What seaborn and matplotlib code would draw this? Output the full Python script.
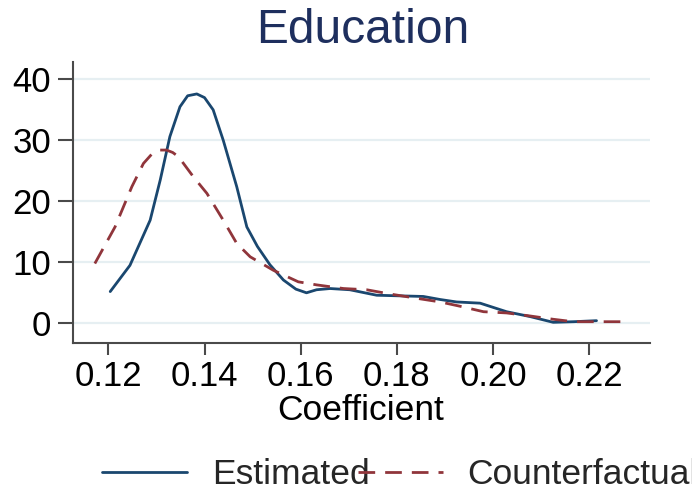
import matplotlib
matplotlib.use("Agg")
import matplotlib.pyplot as plt
import seaborn as sns
import pandas as pd

# ---- data ----
est_x = [0.1204, 0.1245, 0.1287, 0.1308, 0.1328, 0.1349, 0.1365, 0.1384, 0.1400,
         0.1418, 0.1439, 0.1467, 0.1488, 0.1510, 0.1536, 0.1564, 0.1590, 0.1612,
         0.1633, 0.1661, 0.1702, 0.1758, 0.1806, 0.1855, 0.1890, 0.1924, 0.1973,
         0.2028, 0.2077, 0.2125, 0.2167, 0.2215]
est_y = [5.2, 9.5, 16.9, 23.5, 30.6, 35.5, 37.3, 37.6, 37.0,
         35.0, 30.0, 22.4, 15.8, 12.6, 9.6, 7.1, 5.6, 5.0,
         5.5, 5.7, 5.5, 4.6, 4.5, 4.4, 3.9, 3.5, 3.3,
         1.9, 1.1, 0.16, 0.26, 0.43]

cf_x = [0.1172, 0.1214, 0.1249, 0.1273, 0.1290, 0.1306, 0.1321, 0.1334, 0.1346,
        0.1377, 0.1405, 0.1439, 0.1467, 0.1495, 0.1543, 0.1595, 0.1633, 0.1689,
        0.1737, 0.1786, 0.1841, 0.1890, 0.1931, 0.1980, 0.2028, 0.2077, 0.2125,
        0.2167, 0.2222, 0.2278]
cf_y = [9.8, 15.8, 22.4, 26.2, 27.7, 28.4, 28.4, 28.0, 27.3,
        24.0, 21.3, 16.9, 13.1, 10.9, 8.7, 6.8, 6.3, 5.7,
        5.5, 4.8, 4.1, 3.5, 2.8, 1.9, 1.7, 1.2, 0.66,
        0.26, 0.26, 0.26]

x_ticks = [0.12, 0.14, 0.16, 0.18, 0.20, 0.22]
x_tick_labels = ["0.12", "0.14", "0.16", "0.18", "0.20", "0.22"]
y_ticks = [0, 10, 20, 30, 40]
y_tick_labels = ["0", "10", "20", "30", "40"]

title = "Education"
x_label = "Coefficient"
series_names = ["Estimated", "Counterfactual"]

# ---- style ----
sns.set_style("white")
plt.rcParams["font.family"] = ["Liberation Sans", "DejaVu Sans"]

BLUE = "#1a476f"
RED = "#90353b"
GRID = "#e6eff2"
SPINE = "#4a4a4a"

fig = plt.figure(figsize=(6.92, 4.92), dpi=100)
W, H = 692, 492
ax = fig.add_axes([72.7 / W, 1 - 343.3 / H, (650 - 72.7) / W, (343.3 - 62) / H])

df_est = pd.DataFrame({"x": est_x, "y": est_y})
df_cf = pd.DataFrame({"x": cf_x, "y": cf_y})

sns.lineplot(data=df_est, x="x", y="y", ax=ax, color=BLUE, lw=2.0,
             estimator=None, sort=False, label=series_names[0])
sns.lineplot(data=df_cf, x="x", y="y", ax=ax, color=RED, lw=2.0,
             estimator=None, sort=False, label=series_names[1])
ax.lines[1].set_dashes((6, 3.6))
for ln in ax.lines:
    ln.set_solid_joinstyle("round")
    ln.set_dash_joinstyle("round")

# axes limits (from pixel calibration)
px_per_x = 96.2 / 0.02
ax.set_xlim(0.12 - (108.3 - 72.7) / px_per_x, 0.12 + (650 - 108.3) / px_per_x)
ax.set_ylim(0 - (343.3 - 323.3) / 6.1, 40 + (79.3 - 62) / 6.1)

ax.set_xticks(x_ticks)
ax.set_xticklabels(x_tick_labels)
ax.set_yticks(y_ticks)
ax.set_yticklabels(y_tick_labels)

ax.grid(axis="y", color=GRID, lw=1.6)
ax.grid(axis="x", visible=False)
ax.set_axisbelow(True)

for s in ["top", "right"]:
    ax.spines[s].set_visible(False)
for s in ["left", "bottom"]:
    ax.spines[s].set_color(SPINE)
    ax.spines[s].set_linewidth(1.5)

ax.tick_params(axis="y", length=10.5, width=1.5, color=SPINE, pad=5,
               labelsize=25, labelcolor="black", left=True)
ax.tick_params(axis="x", length=8.5, width=1.5, color=SPINE, pad=3.5,
               labelsize=25, labelcolor="black", bottom=True)

ax.set_ylabel("")
ax.set_xlabel("")
fig.text(361 / W, 1 - 410 / H, x_label, ha="center", va="center",
         fontsize=25.5, color="black")

fig.text(362.5 / W, 1 - 43.3 / H, title, ha="center", va="baseline",
         fontsize=34.5, color="#1e2f5e")

ax.get_legend().remove()
handles, labels = ax.get_legend_handles_labels()
leg = fig.legend(handles, labels, loc="center left",
                 bbox_to_anchor=(102 / W, 1 - 475 / H),
                 ncol=2, frameon=False, fontsize=25.5,
                 handlelength=2.4, handletextpad=0.7,
                 columnspacing=-0.34, borderpad=0, borderaxespad=0)

fig.savefig("out.png", dpi=100)
